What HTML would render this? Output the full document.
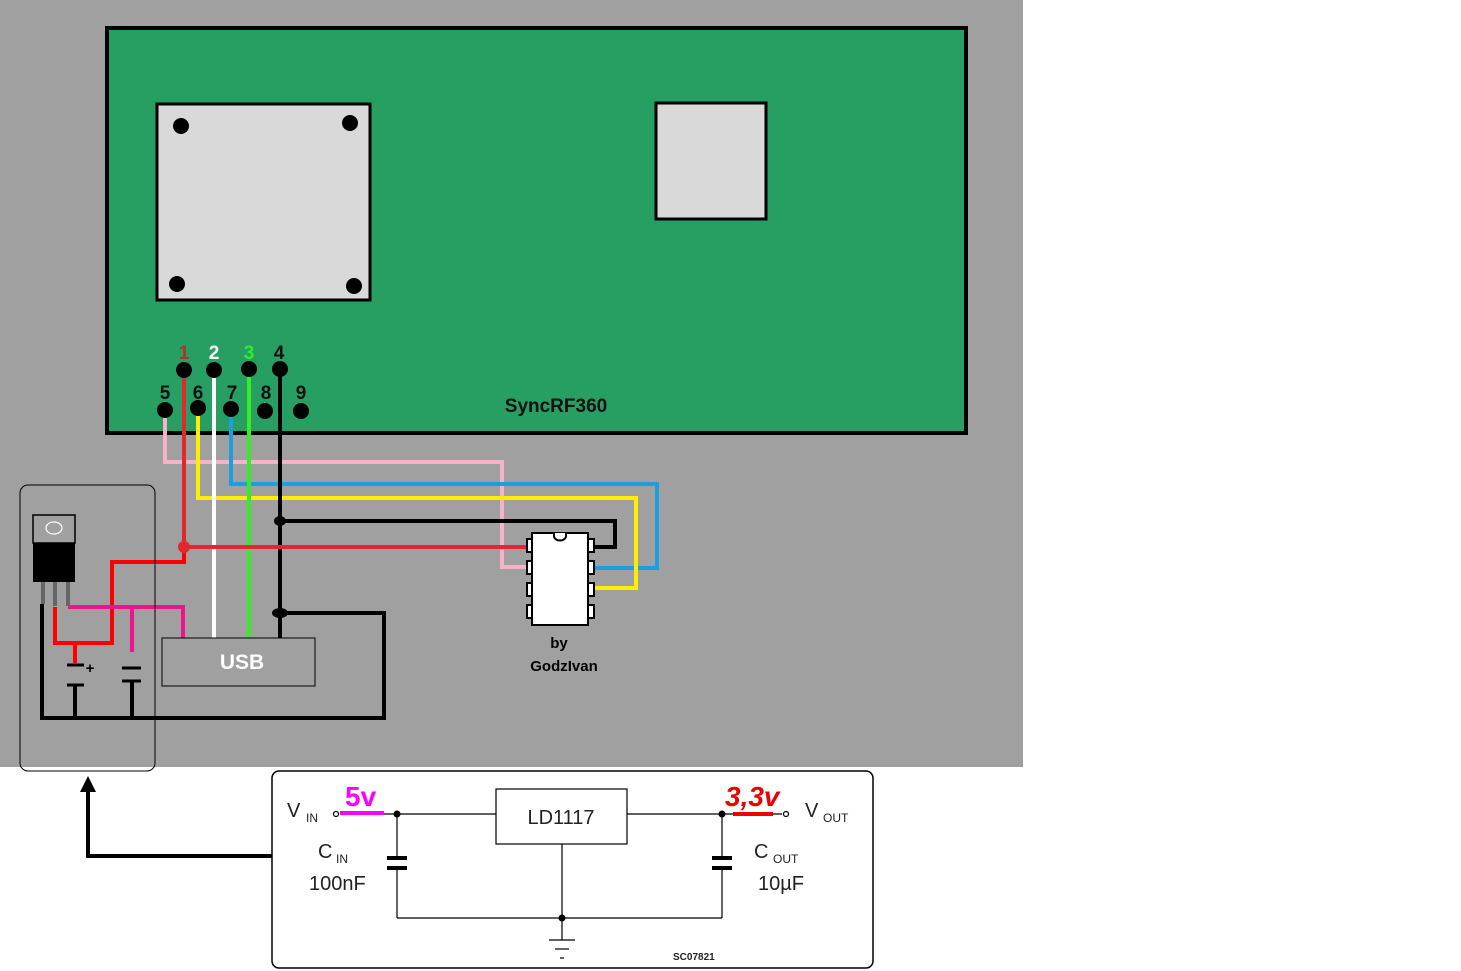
<!DOCTYPE html>
<html><head><meta charset="utf-8"><style>
html,body{margin:0;padding:0;background:#fff;width:1461px;height:971px;overflow:hidden}
svg{display:block}
text{font-family:"Liberation Sans",sans-serif}
</style></head><body>
<svg width="1461" height="971" viewBox="0 0 1461 971" xmlns="http://www.w3.org/2000/svg">
<rect x="0" y="0" width="1023" height="767" fill="#a0a0a0"/>
<!-- board -->
<rect x="107" y="28" width="859" height="405" fill="#279e62" stroke="#000" stroke-width="4"/>
<rect x="157" y="104" width="213" height="196" fill="#d9d9d9" stroke="#000" stroke-width="3"/>
<g fill="#000"><circle cx="181" cy="126" r="8"/><circle cx="350" cy="123" r="8"/><circle cx="177" cy="284" r="8"/><circle cx="354" cy="286" r="8"/></g>
<rect x="656" y="103" width="110" height="116" fill="#d9d9d9" stroke="#000" stroke-width="3"/>
<text x="556" y="412" font-size="19" font-weight="bold" text-anchor="middle" fill="#111">SyncRF360</text>
<!-- wires -->
<g fill="none" stroke-width="4" stroke-linejoin="miter">
<polyline points="165,410 165,462 502,462 502,567 529,567" stroke="#f4b3c6"/>
<polyline points="231,409 231,484 657,484 657,568 595,568" stroke="#1e9ee0"/>
<polyline points="198,408 198,498 636,498 636,588 595,588" stroke="#ffee00"/>
<polyline points="280,521 615,521 615,547 595,547" stroke="#000"/>
<polyline points="280,369 280,638" stroke="#000"/>
<polyline points="214,370 214,638" stroke="#fff"/>
<polyline points="249,369 249,638" stroke="#33ee22"/>
<polyline points="184,370 184,547 529,547" stroke="#e0282e"/>
<polyline points="184,547 184,562 112,562 112,643 55,643 55,607" stroke="#f00"/>
<polyline points="75,643 75,663" stroke="#f00"/>
<polyline points="68,607 183,607 183,638" stroke="#f0148c"/>
<polyline points="132,607 132,652" stroke="#f0148c"/>
<polyline points="280,613 384,613 384,718 42,718 42,604" stroke="#000"/>
<polyline points="75,685 75,718" stroke="#000"/>
<polyline points="132,682 132,718" stroke="#000"/>
</g>
<g fill="#000"><ellipse cx="280" cy="521" rx="6" ry="5"/><ellipse cx="280" cy="613" rx="8" ry="5"/></g>
<circle cx="184" cy="547" r="6" fill="#e0282e"/>
<!-- pins -->
<g fill="#000">
<circle cx="184" cy="370" r="8"/><circle cx="214" cy="370" r="8"/><circle cx="249" cy="369" r="8"/><circle cx="280" cy="369" r="8"/>
<circle cx="165" cy="410" r="8"/><circle cx="198" cy="408" r="8"/><circle cx="231" cy="409" r="8"/><circle cx="265" cy="411" r="8"/><circle cx="301" cy="411" r="8"/>
</g>
<g font-size="19" font-weight="bold" text-anchor="middle">
<text x="184" y="359" fill="#b0302a">1</text><text x="214" y="359" fill="#fff">2</text><text x="249" y="359" fill="#33ee22">3</text><text x="279" y="359" fill="#111">4</text>
<text x="165" y="399" fill="#111">5</text><text x="198" y="399" fill="#111">6</text><text x="232" y="399" fill="#111">7</text><text x="266" y="399" fill="#111">8</text><text x="301" y="399" fill="#111">9</text>
</g>
<!-- caps -->
<g stroke="#000" stroke-width="3"><line x1="67" y1="665" x2="84" y2="665"/><line x1="67" y1="685" x2="84" y2="685"/><line x1="122" y1="668" x2="141" y2="668"/><line x1="122" y1="681" x2="141" y2="681"/></g>
<text x="90" y="673" font-size="15" font-weight="bold" text-anchor="middle">+</text>
<!-- regulator -->
<rect x="33" y="515" width="42" height="28" fill="#a0a0a0" stroke="#000" stroke-width="1.5"/>
<ellipse cx="54" cy="528" rx="8" ry="6" fill="none" stroke="#fff" stroke-width="1.2"/>
<rect x="33" y="543" width="42" height="39" fill="#000"/>
<g stroke="#666" stroke-width="4"><line x1="43" y1="582" x2="43" y2="604"/><line x1="55" y1="582" x2="55" y2="606"/><line x1="68" y1="582" x2="68" y2="606"/></g>
<rect x="20" y="485" width="135" height="286" rx="8" fill="none" stroke="#000" stroke-width="1"/>
<!-- usb -->
<rect x="162" y="638" width="153" height="48" fill="#a0a0a0" stroke="#000" stroke-width="1"/>
<text x="242" y="669" font-size="21" font-weight="bold" fill="#fff" text-anchor="middle">USB</text>
<!-- chip -->
<g fill="#fff" stroke="#000" stroke-width="2">
<rect x="527" y="539" width="6" height="13"/><rect x="527" y="561" width="6" height="13"/><rect x="527" y="583" width="6" height="13"/><rect x="527" y="605" width="6" height="13"/>
<rect x="588" y="539" width="6" height="13"/><rect x="588" y="561" width="6" height="13"/><rect x="588" y="583" width="6" height="13"/><rect x="588" y="605" width="6" height="13"/>
<rect x="532" y="533" width="56" height="92"/>
<path d="M554,533 v3 a4,3 0 0 0 12,0 v-3"/>
</g>
<text x="559" y="648" font-size="15" font-weight="bold" text-anchor="middle">by</text>
<text x="564" y="671" font-size="15" font-weight="bold" text-anchor="middle">GodzIvan</text>
<!-- arrow -->
<polyline points="272,856 88,856 88,788" fill="none" stroke="#000" stroke-width="4"/>
<polygon points="80,792 88,776 96,792" fill="#000"/>
<!-- bottom panel -->
<rect x="272" y="771" width="601" height="197" rx="7" fill="#fff" stroke="#000" stroke-width="1.5"/>
<g stroke="#000" stroke-width="1.2" fill="none">
<line x1="340" y1="814" x2="496" y2="814"/><line x1="627" y1="814" x2="782" y2="814"/>
<rect x="496" y="789" width="131" height="55"/>
<line x1="397" y1="814" x2="397" y2="856"/><line x1="397" y1="870" x2="397" y2="918"/>
<line x1="722" y1="814" x2="722" y2="856"/><line x1="722" y1="870" x2="722" y2="918"/>
<line x1="397" y1="918" x2="722" y2="918"/><line x1="562" y1="844" x2="562" y2="940"/>
<line x1="549" y1="940" x2="575" y2="940"/><line x1="555" y1="949" x2="569" y2="949"/><line x1="560" y1="958" x2="564" y2="958"/>
<circle cx="336" cy="814" r="2.5"/><circle cx="786" cy="814" r="2.5"/>
</g>
<g fill="#000"><circle cx="397" cy="814" r="3.5"/><circle cx="722" cy="814" r="3.5"/><circle cx="562" cy="918" r="3.5"/>
<rect x="387" y="856" width="20" height="4"/><rect x="387" y="866" width="20" height="4"/><rect x="712" y="856" width="20" height="4"/><rect x="712" y="866" width="20" height="4"/></g>
<line x1="340" y1="813" x2="384" y2="813" stroke="#f0f" stroke-width="4"/>
<line x1="733" y1="814" x2="773" y2="814" stroke="#e00" stroke-width="4"/>
<text x="345" y="806" font-size="28" font-weight="bold" fill="#f0f">5v</text>
<text x="725" y="806" font-size="28" font-weight="bold" fill="#e00" font-style="italic">3,3v</text>
<text x="561" y="824" font-size="20" text-anchor="middle" fill="#222">LD1117</text>
<g fill="#222">
<text x="287" y="817" font-size="20">V</text><text x="306" y="822" font-size="12">IN</text>
<text x="805" y="817" font-size="20">V</text><text x="823" y="822" font-size="12">OUT</text>
<text x="318" y="858" font-size="20">C</text><text x="336" y="863" font-size="12">IN</text>
<text x="309" y="890" font-size="20">100nF</text>
<text x="754" y="858" font-size="20">C</text><text x="773" y="863" font-size="12">OUT</text>
<text x="758" y="890" font-size="20">10µF</text>
<text x="673" y="960" font-size="10" font-weight="bold">SC07821</text>
</g>
</svg>
</body></html>
